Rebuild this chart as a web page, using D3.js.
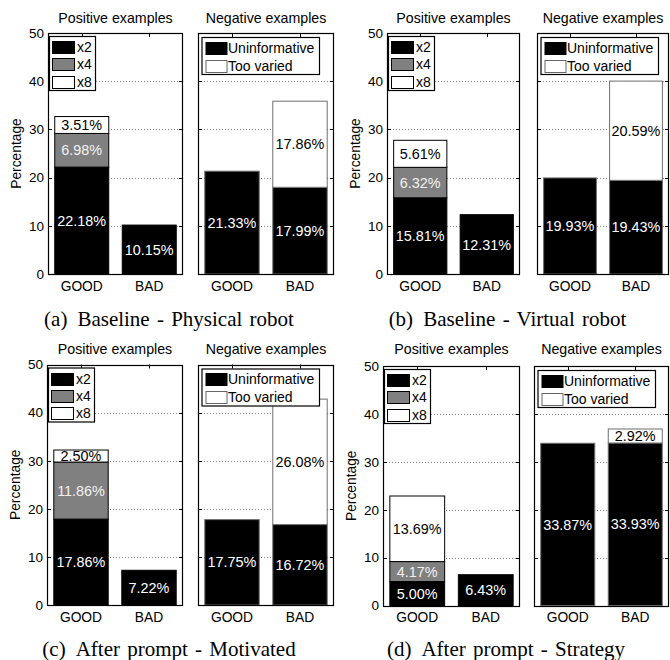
<!DOCTYPE html>
<html>
<head>
<meta charset="utf-8">
<script src="https://cdn.jsdelivr.net/npm/d3@7"></script>
<style>
  html, body { margin: 0; padding: 0; background: #fff; }
  svg { display: block; }
  .sans { font-family: "Liberation Sans", Arial, Helvetica, sans-serif; }
  .serif { font-family: "Liberation Serif", "Times New Roman", serif; }
</style>
</head>
<body>
<svg id="chart" width="670" height="660"></svg>
<script>
// ---------------- data ----------------
const categories = ["GOOD", "BAD"];
const posSeries = ["x2", "x4", "x8"];
const negSeries = ["Uninformative", "Too varied"];
const yTicks = [0, 10, 20, 30, 40, 50];
const captionTags = ["(a)", "(b)", "(c)", "(d)"];
const captionTexts = ["Baseline - Physical robot", "Baseline - Virtual robot",
                      "After prompt - Motivated", "After prompt - Strategy"];
const posTitle = "Positive examples";
const negTitle = "Negative examples";
const yLabel = "Percentage";

// positive examples: [x2, x4, x8] per category, one row per sub-figure
const posGood = [[22.18, 6.98, 3.51], [15.81, 6.32, 5.61], [17.86, 11.86, 2.50], [5.00, 4.17, 13.69]];
const posBad  = [[10.15, 0, 0], [12.31, 0, 0], [7.22, 0, 0], [6.43, 0, 0]];
// negative examples: [Uninformative, Too varied]
const negGood = [[21.33, 0], [19.93, 0], [17.75, 0], [33.87, 0]];
const negBad  = [[17.99, 17.86], [19.43, 20.59], [16.72, 26.08], [33.93, 2.92]];

// ---------------- layout ----------------
const layout = [
  { pos: [48, 183], neg: [198, 334], top: 33, bot: 274, title: 22.5, cap: [169, 326] },
  { pos: [387, 520], neg: [537, 669], top: 33, bot: 274, title: 22.5, cap: [507.5, 326] },
  { pos: [47, 183], neg: [198, 334], top: 364.5, bot: 605, title: 353.5, cap: [169, 656] },
  { pos: [383, 520], neg: [534, 669], top: 366, bot: 605.5, title: 354, cap: [506, 656] }
];

const posFill = { "x2": "#000", "x4": "#808080", "x8": "#fff" };
const posText = { "x2": "#fff", "x4": "#f2f2f2", "x8": "#000" };
const negFill = { "Uninformative": "#000", "Too varied": "#fff" };
const negText = { "Uninformative": "#fff", "Too varied": "#000" };

const svg = d3.select("#chart");
const FS_TICK = 13.5, FS_X = 13.8, FS_TITLE = 14.2, FS_BAR = 14.4, FS_LEG = 14;

function drawAxes(g, x0, x1, top, bot, keys, rows, fills, texts, edge, showY, legendCfg, title, titleY) {
  const x = d3.scaleBand().domain(categories).range([x0, x1]).paddingInner(0.2).paddingOuter(0.1);
  const y = d3.scaleLinear().domain([0, 50]).range([bot, top]);

  // grid (dotted)
  g.append("g").selectAll("line").data(yTicks.filter(t => t > 0 && t < 50)).join("line")
    .attr("x1", x0).attr("x2", x1)
    .attr("y1", d => Math.round(y(d)) + 0.5).attr("y2", d => Math.round(y(d)) + 0.5)
    .attr("stroke", "#8a8a8a").attr("stroke-width", 1).attr("stroke-dasharray", "1,2");

  // stacked bars
  const table = categories.map((c, i) => {
    const o = { cat: c };
    keys.forEach((k, j) => o[k] = rows[i][j]);
    return o;
  });
  const stacked = d3.stack().keys(keys)(table);
  stacked.forEach(layer => {
    const key = layer.key;
    const segs = layer.filter(d => d[1] - d[0] > 0);
    g.append("g").selectAll("rect").data(segs).join("rect")
      .attr("x", d => x(d.data.cat))
      .attr("width", x.bandwidth())
      .attr("y", d => y(d[1]))
      .attr("height", d => y(d[0]) - y(d[1]))
      .attr("fill", fills[key])
      .attr("stroke", edge).attr("stroke-width", 1);
  });
  stacked.forEach(layer => {
    const key = layer.key;
    const segs = layer.filter(d => d[1] - d[0] > 0);
    g.append("g").selectAll("text").data(segs).join("text")
      .attr("class", "sans")
      .attr("x", d => x(d.data.cat) + x.bandwidth() / 2)
      .attr("y", d => y((d[0] + d[1]) / 2))
      .attr("dy", "0.36em")
      .attr("text-anchor", "middle")
      .attr("font-size", FS_BAR)
      .attr("fill", texts[key])
      .text(d => (d[1] - d[0]).toFixed(2) + "%");
  });

  // frame
  g.append("rect").attr("x", x0 + 0.5).attr("y", Math.round(top) + 0.5)
    .attr("width", x1 - x0 - 1).attr("height", Math.round(bot) - Math.round(top))
    .attr("fill", "none").attr("stroke", "#000").attr("stroke-width", 1.2);

  // y ticks (both sides, inward)
  const tl = 4;
  g.append("g").selectAll("path").data(yTicks.filter(t => t > 0 && t < 50)).join("path")
    .attr("d", d => {
      const yy = Math.round(y(d)) + 0.5;
      return `M${x0},${yy}h${tl}M${x1},${yy}h${-tl}`;
    })
    .attr("stroke", "#000").attr("stroke-width", 1);
  // x ticks on top edge
  g.append("g").selectAll("path").data(categories).join("path")
    .attr("d", c => {
      const xx = Math.round(x(c) + x.bandwidth() / 2) + 0.5;
      return `M${xx},${top}v${tl}`;
    })
    .attr("stroke", "#000").attr("stroke-width", 1);

  // y tick labels
  if (showY) {
    g.append("g").selectAll("text").data(yTicks).join("text")
      .attr("class", "sans")
      .attr("x", x0 - 4).attr("y", d => y(d)).attr("dy", "0.36em")
      .attr("text-anchor", "end").attr("font-size", FS_TICK).attr("fill", "#000")
      .text(d => d);
    g.append("text").attr("class", "sans")
      .attr("transform", `translate(${x0 - 27},${(top + bot) / 2}) rotate(-90)`)
      .attr("text-anchor", "middle").attr("font-size", FS_X).attr("fill", "#000")
      .text(yLabel);
  }
  // x labels
  g.append("g").selectAll("text").data(categories).join("text")
    .attr("class", "sans")
    .attr("x", c => x(c) + x.bandwidth() / 2).attr("y", bot + 16.5)
    .attr("text-anchor", "middle").attr("font-size", FS_X).attr("fill", "#000")
    .text(c => c);

  // title
  g.append("text").attr("class", "sans")
    .attr("x", (x0 + x1) / 2).attr("y", titleY)
    .attr("text-anchor", "middle").attr("font-size", FS_TITLE).attr("fill", "#000")
    .text(title);

  // legend
  const L = legendCfg;
  const lg = g.append("g");
  lg.append("rect").attr("x", x0 + L.bx + 0.5).attr("y", top + L.by + 0.5)
    .attr("width", L.bw).attr("height", L.bh)
    .attr("fill", "#fff").attr("stroke", "#000").attr("stroke-width", 1.2);
  keys.forEach((k, i) => {
    const cy = top + L.row0 + i * L.step;
    lg.append("rect").attr("x", x0 + L.sx + 0.5).attr("y", Math.round(cy - L.sh / 2) + 0.5)
      .attr("width", L.sw).attr("height", L.sh)
      .attr("fill", fills[k]).attr("stroke", k === "Too varied" ? "#666" : "#000").attr("stroke-width", 1);
    lg.append("text").attr("class", "sans")
      .attr("x", x0 + L.tx).attr("y", cy).attr("dy", "0.36em")
      .attr("font-size", FS_LEG).attr("fill", "#000").text(k);
  });
}

const posLegend = { bx: 1, by: 3, bw: 46, bh: 54, sx: 4, sw: 22, sh: 12, row0: 14, step: 17.3, tx: 29 };
const negLegend = { bx: 3.5, by: 4, bw: 117.5, bh: 37, sx: 7.5, sw: 21, sh: 12, row0: 14.5, step: 18, tx: 30 };

layout.forEach((p, i) => {
  const g = svg.append("g");
  drawAxes(g, p.pos[0], p.pos[1], p.top, p.bot, posSeries,
    [posGood[i], posBad[i]], posFill, posText, "#000", true, posLegend, posTitle, p.title);
  drawAxes(g, p.neg[0], p.neg[1], p.top, p.bot, negSeries,
    [negGood[i], negBad[i]], negFill, negText, "#6e6e6e", false, negLegend, negTitle, p.title);

  const t = g.append("text").attr("class", "serif")
    .attr("x", p.cap[0]).attr("y", p.cap[1])
    .attr("text-anchor", "middle").attr("font-size", 21).attr("word-spacing", 2)
    .attr("fill", "#000");
  t.append("tspan").text(captionTags[i]);
  t.append("tspan").attr("dx", 10).text(captionTexts[i]);
});
</script>
</body>
</html>
